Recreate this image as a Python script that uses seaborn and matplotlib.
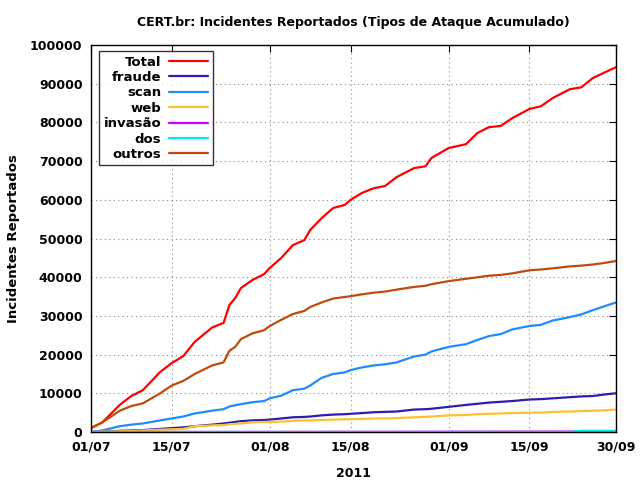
import numpy as np
import pandas as pd
import matplotlib
matplotlib.use("Agg")
import matplotlib.pyplot as plt
import seaborn as sns

days = [0, 2, 5, 7, 9, 12, 14, 16, 18, 21, 23, 24, 25, 26, 28, 30, 31, 33, 35, 37, 38, 40, 42,
        44, 45, 47, 49, 51, 53, 56, 58, 59, 62, 65, 67, 69, 71, 73, 76, 78, 80, 83, 85, 87, 89, 91]

total = [1000, 2500, 7000, 9300, 10800, 15500, 17800, 19600, 23300, 27000, 28200, 32800, 34600,
         37200, 39300, 40800, 42400, 45000, 48300, 49600, 52200, 55300, 57900, 58700, 60000,
         61800, 63000, 63600, 65900, 68200, 68700, 70800, 73400, 74400, 77300, 78800, 79100,
         81100, 83500, 84200, 86300, 88600, 89100, 91500, 92900, 94300]
fraude = [0, 100, 300, 400, 500, 800, 1000, 1200, 1500, 1900, 2200, 2400, 2600, 2800, 3000, 3100,
          3200, 3500, 3800, 3900, 4000, 4300, 4500, 4600, 4700, 4900, 5100, 5200, 5300, 5800,
          5900, 6000, 6500, 7000, 7300, 7600, 7800, 8000, 8400, 8500, 8700, 9000, 9200, 9300,
          9700, 10000]
scan = [0, 400, 1500, 1900, 2200, 3000, 3500, 4000, 4800, 5500, 5900, 6600, 6900, 7200, 7700,
        8000, 8700, 9400, 10800, 11200, 12000, 14000, 15000, 15400, 16000, 16700, 17200, 17500,
        18000, 19500, 20000, 20800, 22000, 22700, 23800, 24800, 25300, 26500, 27400, 27700,
        28800, 29700, 30400, 31500, 32500, 33500]
web = [0, 100, 200, 300, 400, 600, 700, 800, 1500, 1700, 1800, 2000, 2100, 2200, 2500, 2600,
       2600, 2700, 2900, 3000, 3000, 3100, 3200, 3300, 3300, 3400, 3500, 3500, 3600, 3800, 3900,
       4000, 4300, 4400, 4600, 4700, 4800, 4900, 5000, 5000, 5200, 5300, 5400, 5500, 5600, 5800]
invasao = [0, 0, 0, 0, 0, 0, 10, 10, 10, 20, 20, 20, 20, 20, 30, 30, 30, 30, 40, 40, 40, 40, 50,
           50, 50, 50, 60, 60, 60, 60, 70, 70, 70, 80, 80, 80, 90, 90, 100, 100, 100, 110, 110,
           120, 120, 130]
dos = [0, 0, 0, 0, 0, 0, 0, 0, 0, 0, 0, 0, 0, 0, 0, 0, 0, 0, 0, 0, 0, 0, 0, 0, 0, 0, 0, 0, 0, 0,
       0, 0, 0, 0, 0, 0, 0, 0, 0, 0, 0, 0, 300, 300, 300, 300]
outros = [1000, 2500, 5500, 6700, 7400, 10000, 12000, 13200, 15000, 17200, 18000, 21000, 22000,
          24000, 25500, 26300, 27400, 29000, 30500, 31300, 32300, 33500, 34500, 34900, 35100,
          35600, 36000, 36300, 36800, 37500, 37800, 38200, 39000, 39600, 40000, 40400, 40600,
          41000, 41800, 42000, 42300, 42800, 43000, 43300, 43700, 44200]

series_names = ["Total", "fraude", "scan", "web", "invasão", "dos", "outros"]
series_vals = [total, fraude, scan, web, invasao, dos, outros]
colors = ["#ff0000", "#2a1fb0", "#1e8cff", "#ffc030", "#d000ff", "#00e8e8", "#c04a0a"]

tick_days = [0, 14, 31, 45, 62, 76, 91]
tick_labels = ["01/07", "15/07", "01/08", "15/08", "01/09", "15/09", "30/09"]
ytick_vals = list(range(0, 100001, 10000))

rows = []
for name, vals in zip(series_names, series_vals):
    for d, v in zip(days, vals):
        rows.append({"day": d, "valor": v, "tipo": name})
df = pd.DataFrame(rows)

sns.set_style("white")
plt.rcParams["font.family"] = ["DejaVu Sans"]
plt.rcParams["font.weight"] = "bold"
plt.rcParams["text.color"] = "black"
plt.rcParams["axes.labelcolor"] = "black"
plt.rcParams["xtick.color"] = "black"
plt.rcParams["ytick.color"] = "black"

fig = plt.figure(figsize=(6.4, 4.8), dpi=100)
ax = fig.add_axes([0.142, 0.1, 0.8205, 0.806])

sns.lineplot(data=df, x="day", y="valor", hue="tipo", hue_order=series_names,
             palette=colors, linewidth=1.6, ax=ax, legend=True)

ax.set_xlim(0, 91)
ax.set_ylim(0, 100000)
ax.set_xticks(tick_days)
ax.set_xticklabels(tick_labels, fontsize=9, fontweight="bold", color="black")
ax.set_yticks(ytick_vals)
ax.set_yticklabels([str(v) for v in ytick_vals], fontsize=9, fontweight="bold", color="black")
ax.tick_params(direction="in", length=5, width=0.8, top=True, right=True, pad=6, colors="black")
ax.grid(True, color="#888888", linestyle=(0, (1, 3)), linewidth=0.8)
for s in ax.spines.values():
    s.set_color("black")
    s.set_linewidth(1.0)

ax.set_xlabel("2011", fontsize=9, fontweight="bold", labelpad=10, color="black")
ax.set_ylabel("Incidentes Reportados", fontsize=9.5, fontweight="bold", labelpad=7, color="black")
ax.set_title("CERT.br: Incidentes Reportados (Tipos de Ataque Acumulado)",
             fontsize=9, fontweight="bold", pad=14, color="black")

handles, labels = ax.get_legend_handles_labels()
leg = ax.legend(handles, labels, loc="upper left", bbox_to_anchor=(0.008, 0.995),
                markerfirst=False, fontsize=9.5, frameon=True, fancybox=False,
                handlelength=3.0, handletextpad=0.55, labelspacing=0.18,
                borderpad=0.35, borderaxespad=0.3)
leg.get_frame().set_edgecolor("black")
leg.get_frame().set_linewidth(1.0)
for t in leg.get_texts():
    t.set_fontweight("bold")
    t.set_color("black")
    t.set_ha("right")
for l in leg.get_lines():
    l.set_linewidth(1.6)

fig.savefig("out.png", dpi=100)
